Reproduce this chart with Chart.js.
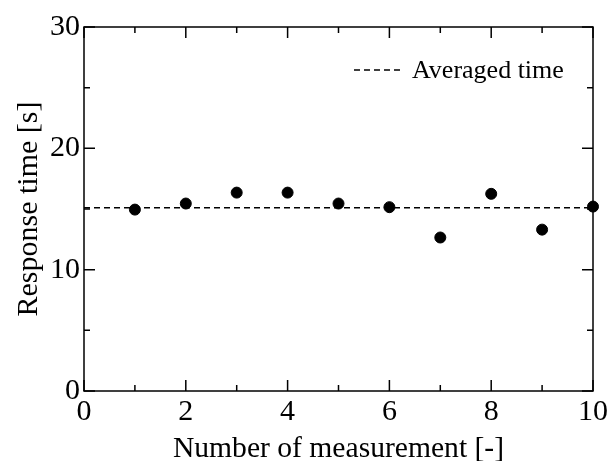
<!DOCTYPE html>
<html>
<head>
<meta charset="utf-8">
<script src="https://cdn.jsdelivr.net/npm/chart.js@4.4.0/dist/chart.umd.min.js"></script>
<style>
html, body { margin: 0; padding: 0; background: #fff; }
</style>
</head>
<body>
<canvas id="chart" width="611" height="461"></canvas>
<script>
// data
var measurement_numbers = [1, 2, 3, 4, 5, 6, 7, 8, 9, 10];
var response_times = [14.95, 15.45, 16.35, 16.35, 15.45, 15.15, 12.65, 16.25, 13.3, 15.2];
var averaged_x = [0, 10];
var averaged_y = [15.1, 15.1];
var x_major_ticks = [0, 2, 4, 6, 8, 10];
var x_minor_ticks = [1, 3, 5, 7, 9];
var y_major_ticks = [0, 10, 20, 30];
var y_minor_ticks = [5, 15, 25];

var font_family = "'Liberation Serif', 'Times New Roman', serif";

var points = measurement_numbers.map(function(n, i) { return {x: n, y: response_times[i]}; });
var average = averaged_x.map(function(x, i) { return {x: x, y: averaged_y[i]}; });

// box round the plot with inward ticks, like the original figure
var frame_plugin = {
  id: "frame",
  beforeDatasetsDraw: function(chart) {
    var ctx = chart.ctx;
    var a = chart.chartArea;
    var sx = chart.scales.x;
    var sy = chart.scales.y;
    ctx.save();
    ctx.strokeStyle = "#000";
    ctx.lineWidth = 1.5;
    ctx.strokeRect(a.left, a.top, a.right - a.left, a.bottom - a.top);
    ctx.beginPath();
    var tick_x = function(v, len) {
      var px = sx.getPixelForValue(v);
      ctx.moveTo(px, a.bottom); ctx.lineTo(px, a.bottom - len);
      ctx.moveTo(px, a.top); ctx.lineTo(px, a.top + len);
    };
    var tick_y = function(v, len) {
      var py = sy.getPixelForValue(v);
      ctx.moveTo(a.left, py); ctx.lineTo(a.left + len, py);
      ctx.moveTo(a.right, py); ctx.lineTo(a.right - len, py);
    };
    x_major_ticks.forEach(function(v) { tick_x(v, 11); });
    x_minor_ticks.forEach(function(v) { tick_x(v, 6); });
    y_major_ticks.forEach(function(v) { tick_y(v, 11); });
    y_minor_ticks.forEach(function(v) { tick_y(v, 6); });
    ctx.stroke();
    ctx.restore();
  }
};

// legend sits inside the plot, top right
var legend_plugin = {
  id: "inner_legend",
  afterDraw: function(chart) {
    var ctx = chart.ctx;
    var a = chart.chartArea;
    var ds = chart.data.datasets[1];
    var y = a.top + 43;
    var x0 = a.right - 239;
    ctx.save();
    ctx.strokeStyle = ds.borderColor;
    ctx.lineWidth = ds.borderWidth;
    ctx.setLineDash(ds.borderDash);
    ctx.beginPath();
    ctx.moveTo(x0, y);
    ctx.lineTo(x0 + 50, y);
    ctx.stroke();
    ctx.setLineDash([]);
    ctx.fillStyle = "#000";
    ctx.font = "26px " + font_family;
    ctx.textBaseline = "middle";
    ctx.textAlign = "left";
    ctx.fillText(ds.label, x0 + 58, y + 1);
    ctx.restore();
  }
};

var chart = new Chart("chart", {
  type: "scatter",
  data: {
    datasets: [
      {
        label: "Response time",
        data: points,
        backgroundColor: "#000",
        borderColor: "#000",
        pointRadius: 5.5,
        pointHoverRadius: 5.5,
        clip: false,
        order: 0
      },
      {
        type: "line",
        label: "Averaged time",
        data: average,
        borderColor: "#000",
        borderWidth: 1.5,
        borderDash: [6, 4],
        pointRadius: 0,
        fill: false,
        order: 1
      }
    ]
  },
  options: {
    responsive: false,
    animation: false,
    events: [],
    layout: { padding: { left: 0, right: 17, top: 27, bottom: 0 } },
    plugins: {
      legend: { display: false },
      tooltip: { enabled: false }
    },
    scales: {
      x: {
        type: "linear",
        min: 0,
        max: 10,
        grid: { display: false, drawTicks: false },
        border: { display: false },
        ticks: {
          stepSize: 2,
          padding: 3,
          color: "#000",
          font: { family: font_family, size: 30 }
        },
        title: {
          display: true,
          text: "Number of measurement [-]",
          color: "#000",
          font: { family: font_family, size: 29.6 },
          padding: { top: 0, bottom: -6 }
        },
        afterFit: function(scale) { scale.height = 70; }
      },
      y: {
        type: "linear",
        min: 0,
        max: 30,
        grid: { display: false, drawTicks: false },
        border: { display: false },
        ticks: {
          stepSize: 10,
          padding: 4,
          color: "#000",
          font: { family: font_family, size: 30 }
        },
        title: {
          display: true,
          text: "Response time [s]",
          color: "#000",
          font: { family: font_family, size: 30 },
          padding: { top: 11, bottom: 0 }
        },
        afterFit: function(scale) { scale.width = 84; }
      }
    }
  },
  plugins: [frame_plugin, legend_plugin]
});
</script>
</body>
</html>
